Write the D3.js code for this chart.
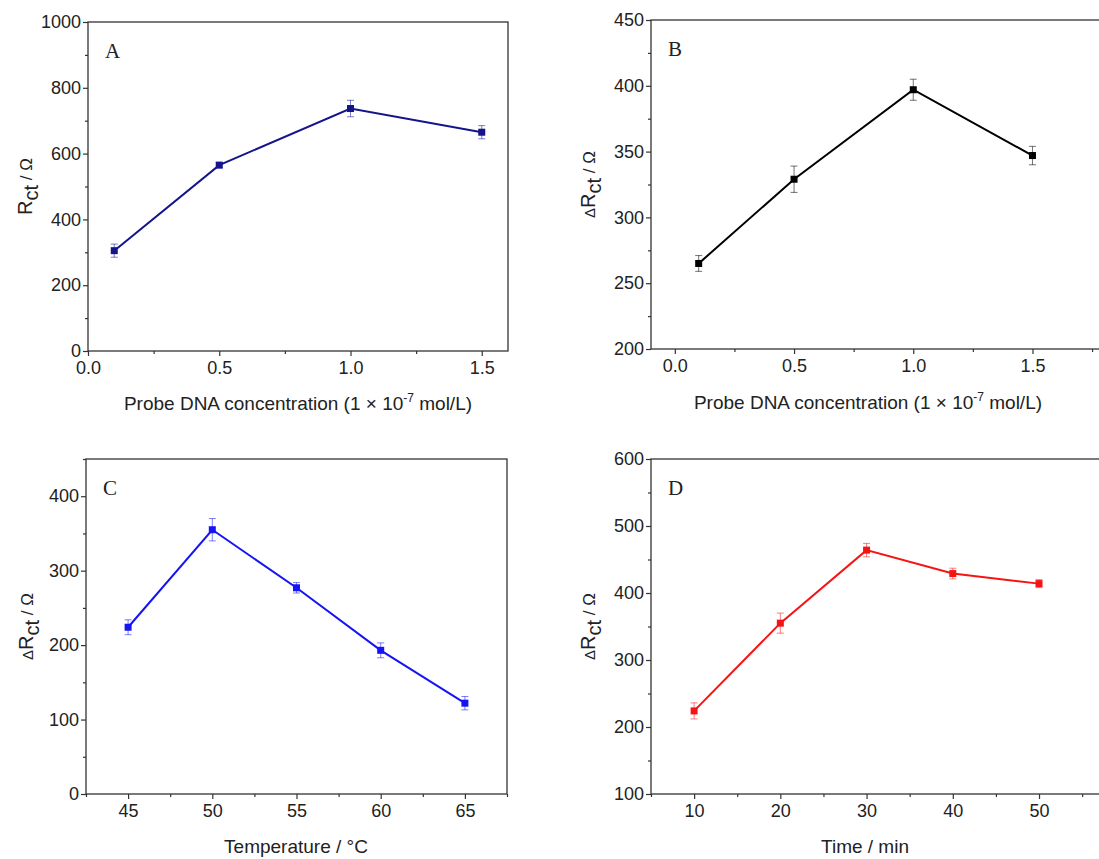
<!DOCTYPE html>
<html>
<head>
<meta charset="utf-8">
<script src="https://cdn.jsdelivr.net/npm/d3@7"></script>
<style>
  body { margin: 0; background: #fff; }
  svg { display: block; }
  text { font-family: "Liberation Sans", Arial, sans-serif; fill: #222; }
</style>
</head>
<body>
<div id="chart"></div>
<script>
// data

// A - Rct vs probe DNA concentration
var probeConc = [0.1, 0.5, 1.0, 1.5];
var rctA = [305, 565, 737, 665];
var errA = [20, 8, 25, 20];

// B - delta Rct vs probe DNA concentration
var deltaRctB = [265, 329, 397, 347];
var errB = [6, 10, 8, 7];

// C - delta Rct vs temperature
var temperature = [45, 50, 55, 60, 65];
var deltaRctC = [224, 355, 277, 193, 122];
var errC = [10, 15, 7, 10, 9];

// D - delta Rct vs hybridization time
var time = [10, 20, 30, 40, 50];
var deltaRctD = [224, 355, 464, 429, 414];
var errD = [12, 15, 10, 8, 6];

// tick labels
var concTicks = [0, 0.5, 1.0, 1.5];
var concMinor = [0.25, 0.75, 1.25, 1.75];
var tempTicks = [45, 50, 55, 60, 65];
var tempMinor = [42.5, 47.5, 52.5, 57.5, 62.5, 67.5];
var timeTicks = [10, 20, 30, 40, 50];
var timeMinor = [5, 15, 25, 35, 45, 55];

// svg container
var svg = d3.select("#chart").append("svg")
  .attr("width", 1099)
  .attr("height", 859);

function drawPanel(p) {
  var x = d3.scaleLinear().domain(p.xDomain).range([p.left, p.right]);
  var y = d3.scaleLinear().domain(p.yDomain).range([p.bottom, p.top]);
  var g = svg.append("g");

  // minor ticks first (no labels)
  g.append("g")
    .attr("transform", "translate(0," + p.bottom + ")")
    .call(d3.axisBottom(x).tickValues(p.xMinor).tickSize(3).tickFormat(""))
    .call(function (a) { a.select(".domain").remove(); });
  g.append("g")
    .attr("transform", "translate(" + p.left + ",0)")
    .call(d3.axisLeft(y).tickValues(p.yMinor).tickSize(3).tickFormat(""))
    .call(function (a) { a.select(".domain").remove(); });

  // major ticks with labels
  var xAxis = g.append("g")
    .attr("transform", "translate(0," + p.bottom + ")")
    .call(d3.axisBottom(x).tickValues(p.xTicks).tickSize(5).tickPadding(5).tickFormat(p.xFormat));
  var yAxis = g.append("g")
    .attr("transform", "translate(" + p.left + ",0)")
    .call(d3.axisLeft(y).tickValues(p.yTicks).tickSize(5).tickPadding(2).tickFormat(d3.format("d")));
  [xAxis, yAxis].forEach(function (a) {
    a.select(".domain").remove();
    a.selectAll("text").style("font-size", "18px").attr("fill", "#222");
  });
  g.selectAll(".tick line").attr("stroke", "#333").attr("stroke-width", 1.2);

  // frame
  g.append("rect")
    .attr("x", p.left)
    .attr("y", p.top)
    .attr("width", p.right - p.left)
    .attr("height", p.bottom - p.top)
    .attr("fill", "none")
    .attr("stroke", "#333")
    .attr("stroke-width", 1.3);

  var pts = p.xs.map(function (d, i) { return { x: d, y: p.ys[i], e: p.errs[i] }; });

  // error bars
  var eb = g.selectAll(".eb").data(pts).enter().append("g")
    .attr("stroke", p.color)
    .attr("stroke-opacity", 0.55)
    .attr("stroke-width", 1);
  eb.append("line")
    .attr("x1", function (d) { return x(d.x); })
    .attr("x2", function (d) { return x(d.x); })
    .attr("y1", function (d) { return y(d.y - d.e); })
    .attr("y2", function (d) { return y(d.y + d.e); });
  [-1, 1].forEach(function (s) {
    eb.append("line")
      .attr("x1", function (d) { return x(d.x) - 3.5; })
      .attr("x2", function (d) { return x(d.x) + 3.5; })
      .attr("y1", function (d) { return y(d.y + s * d.e); })
      .attr("y2", function (d) { return y(d.y + s * d.e); });
  });

  // connecting line
  g.append("path")
    .datum(pts)
    .attr("fill", "none")
    .attr("stroke", p.color)
    .attr("stroke-width", 2)
    .attr("d", d3.line().x(function (d) { return x(d.x); }).y(function (d) { return y(d.y); }));

  // square markers
  g.selectAll(".pt").data(pts).enter().append("rect")
    .attr("x", function (d) { return x(d.x) - 3.5; })
    .attr("y", function (d) { return y(d.y) - 3.5; })
    .attr("width", 7)
    .attr("height", 7)
    .attr("fill", p.color);

  // panel letter
  g.append("text")
    .attr("x", p.left + 17)
    .attr("y", p.top + 36)
    .style("font-family", "'Liberation Serif', 'Times New Roman', serif")
    .style("font-size", "21px")
    .text(p.letter);

  // x title
  var xt = g.append("text")
    .attr("x", p.xTitleX)
    .attr("y", p.xTitleY)
    .attr("text-anchor", "middle")
    .style("font-size", "19px");
  if (p.xTitle === "conc") {
    xt.append("tspan").text("Probe DNA concentration (1 \u00D7 10");
    xt.append("tspan").attr("dy", -8).style("font-size", "12px").text("-7");
    xt.append("tspan").attr("dy", 8).text(" mol/L)");
  } else {
    xt.text(p.xTitle);
  }

  // y title, rotated
  var yt = g.append("text")
    .attr("transform", "translate(" + p.yTitleX + "," + ((p.top + p.bottom) / 2) + ") rotate(-90)")
    .attr("text-anchor", "middle")
    .style("font-size", "20px");
  if (p.delta) yt.append("tspan").style("font-size", "15px").text("\u0394");
  yt.append("tspan").text("R");
  yt.append("tspan").attr("dy", 6).text("ct");
  yt.append("tspan").attr("dy", -6).style("font-size", "17px").text(" / \u03A9");
}

drawPanel({
  letter: "A", color: "#14148c", delta: false,
  left: 88, right: 508, top: 22, bottom: 351,
  xDomain: [0, 1.6], yDomain: [0, 1000],
  xTicks: concTicks, xMinor: concMinor.slice(0, 3), xFormat: d3.format(".1f"),
  yTicks: [0, 200, 400, 600, 800, 1000], yMinor: [100, 300, 500, 700, 900],
  xs: probeConc, ys: rctA, errs: errA,
  xTitle: "conc", xTitleX: 298, xTitleY: 410, yTitleX: 32
});

drawPanel({
  letter: "B", color: "#000000", delta: true,
  left: 651, right: 1104, top: 20, bottom: 349,
  xDomain: [-0.1, 1.8], yDomain: [200, 450],
  xTicks: concTicks, xMinor: concMinor, xFormat: d3.format(".1f"),
  yTicks: [200, 250, 300, 350, 400, 450], yMinor: [225, 275, 325, 375, 425],
  xs: probeConc, ys: deltaRctB, errs: errB,
  xTitle: "conc", xTitleX: 868, xTitleY: 409, yTitleX: 595
});

drawPanel({
  letter: "C", color: "#1414f5", delta: true,
  left: 86, right: 507, top: 459, bottom: 794,
  xDomain: [42.5, 67.5], yDomain: [0, 450],
  xTicks: tempTicks, xMinor: tempMinor, xFormat: d3.format("d"),
  yTicks: [0, 100, 200, 300, 400], yMinor: [50, 150, 250, 350, 450],
  xs: temperature, ys: deltaRctC, errs: errC,
  xTitle: "Temperature / \u00B0C", xTitleX: 296, xTitleY: 853, yTitleX: 33
});

drawPanel({
  letter: "D", color: "#f51414", delta: true,
  left: 651, right: 1108, top: 459, bottom: 794,
  xDomain: [5, 58], yDomain: [100, 600],
  xTicks: timeTicks, xMinor: timeMinor, xFormat: d3.format("d"),
  yTicks: [100, 200, 300, 400, 500, 600], yMinor: [150, 250, 350, 450, 550],
  xs: time, ys: deltaRctD, errs: errD,
  xTitle: "Time / min", xTitleX: 865, xTitleY: 853, yTitleX: 595
});
</script>
</body>
</html>
